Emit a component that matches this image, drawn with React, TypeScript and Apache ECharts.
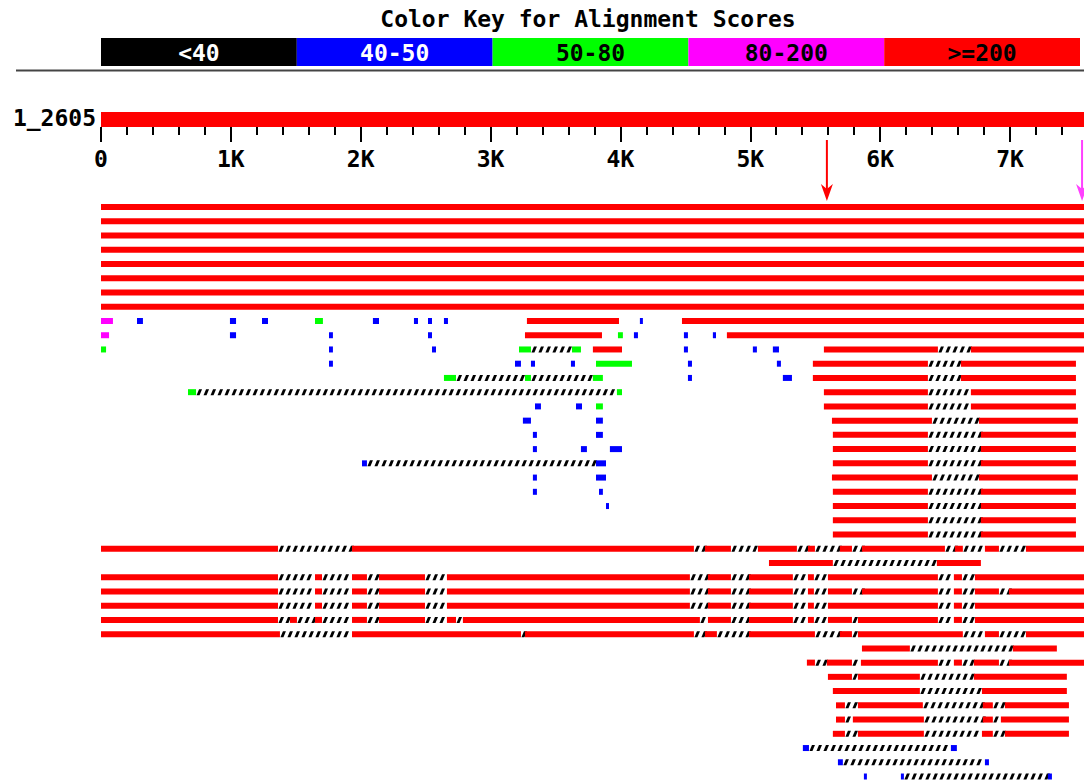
import React, { useEffect, useRef } from "react";
import * as echarts from "echarts";

type Seg = [number, number, string];

// ---------- data ----------
const QUERY_LENGTH = 7570;
const QUERY_LABEL = "1_2605";
const TITLE = "Color Key for Alignment Scores";
const KEY_LABELS = ["<40", "40-50", "50-80", "80-200", ">=200"];
const KEY_COLORS = ["#000000", "#0000ff", "#00ff00", "#ff00ff", "#ff0000"];
const KEY_TEXT_COLORS = ["#ffffff", "#ffffff", "#000000", "#000000", "#000000"];
const MAJOR_TICKS = [0, 1000, 2000, 3000, 4000, 5000, 6000, 7000];
const MINOR_TICKS = [
  200, 400, 600, 800, 1200, 1400, 1600, 1800, 2200, 2400, 2600, 2800, 3200, 3400, 3600, 3800,
  4200, 4400, 4600, 4800, 5200, 5400, 5600, 5800, 6200, 6400, 6600, 6800, 7200, 7400,
];
const ARROW_POSITIONS = [5590, 7555];
const ARROW_COLORS = ["#ff0000", "#ff40ff"];
// score classes: K <40, B 40-50, G 50-80, M 80-200, R >=200, H gap (hatched)
const CODES = ["K", "B", "G", "M", "R", "H"];
const CODE_COLORS: Record<string, string> = {
  K: "#000000",
  B: "#0000ff",
  G: "#00ff00",
  M: "#ff00ff",
  R: "#ff0000",
};

const FULL: Seg[] = [[0, 7570, "R"]];
const RIGHT_A: Seg[] = [[5636, 6368, "R"], [6368, 6776, "H"], [6776, 7508, "R"]];
const RIGHT_B: Seg[] = [[5629, 6399, "R"], [6399, 6761, "H"], [6761, 7523, "R"]];

const TOP_HITS: Seg[][] = [FULL, FULL, FULL, FULL, FULL, FULL, FULL, FULL];

const SCATTER_HITS: Seg[][] = [
  [[0, 92, "M"], [277, 323, "B"], [993, 1040, "B"], [1240, 1286, "B"], [1648, 1709, "G"], [2094, 2141, "B"], [2410, 2441, "B"], [2518, 2549, "B"], [2641, 2672, "B"], [3280, 3989, "R"], [4150, 4173, "B"], [4474, 7570, "R"]],
  [[0, 62, "M"], [993, 1040, "B"], [1756, 1786, "B"], [2518, 2549, "B"], [3265, 3858, "R"], [3981, 4019, "G"], [4104, 4135, "B"], [4489, 4520, "B"], [4712, 4736, "B"], [4820, 7570, "R"]],
  [[0, 39, "G"], [1756, 1786, "B"], [2549, 2580, "B"], [3219, 3311, "G"], [3311, 3627, "H"], [3627, 3696, "G"], [3788, 4012, "R"], [4489, 4520, "B"], [5020, 5051, "B"], [5174, 5221, "B"], [5567, 6445, "R"], [6445, 6699, "H"], [6699, 7570, "R"]],
  [[1756, 1786, "B"], [3188, 3234, "B"], [3311, 3342, "B"], [3619, 3650, "B"], [3812, 4089, "G"], [4520, 4551, "B"], [5205, 5236, "B"], [5482, 6368, "R"], [6368, 6622, "H"], [6622, 7508, "R"]],
  [[2641, 2734, "G"], [2734, 3265, "H"], [3265, 3311, "G"], [3311, 3788, "H"], [3788, 3865, "G"], [4520, 4551, "B"], [5251, 5321, "B"], [5482, 6368, "R"], [6368, 6622, "H"], [6622, 7508, "R"]],
  [[670, 732, "G"], [732, 3973, "H"], [3973, 4012, "G"], [5567, 6368, "R"], [6368, 6699, "H"], [6699, 7508, "R"]],
  [[3342, 3388, "B"], [3658, 3704, "B"], [3812, 3865, "G"], [5567, 6368, "R"], [6368, 6699, "H"], [6699, 7508, "R"]],
  [[3249, 3311, "B"], [3812, 3865, "B"], ...RIGHT_B],
  [[3326, 3357, "B"], [3812, 3865, "B"], ...RIGHT_A],
  [[3326, 3357, "B"], [3696, 3742, "B"], [3919, 4012, "B"], ...RIGHT_A],
  [[2010, 2048, "B"], [2048, 3812, "H"], [3812, 3889, "B"], ...RIGHT_A],
  [[3326, 3357, "B"], [3812, 3889, "B"], ...RIGHT_B],
  [[3326, 3357, "B"], [3835, 3865, "B"], ...RIGHT_A],
  [[3889, 3912, "B"], ...RIGHT_A],
  [...RIGHT_A],
  [...RIGHT_A],
];

const GAPPED_LEFT: Seg[] = [[0, 1363, "R"], [1363, 1648, "H"], [1648, 1702, "R"], [1702, 1933, "H"], [1933, 2048, "R"], [2048, 2141, "H"], [2141, 2495, "R"], [2495, 2664, "H"]];
const GAPPED_MID: Seg[] = [[4535, 4674, "H"], [4674, 4851, "R"], [4851, 4990, "H"], [4990, 5328, "R"], [5328, 5444, "H"], [5444, 5490, "R"], [5490, 5598, "H"]];

const GAPPED_HITS: Seg[][] = [
  [[0, 1363, "R"], [1363, 1933, "H"], [1933, 4566, "R"], [4566, 4651, "H"], [4651, 4851, "R"], [4851, 5059, "H"], [5059, 5359, "R"], [5359, 5444, "H"], [5444, 5498, "R"], [5498, 5690, "H"], [5690, 5783, "R"], [5783, 5860, "H"], [5860, 6499, "R"], [6499, 6576, "H"], [6576, 6637, "R"], [6637, 6807, "H"], [6807, 6915, "R"], [6915, 7123, "H"], [7123, 7570, "R"]],
  [[5144, 5636, "R"], [5636, 6437, "H"], [6437, 6776, "R"]],
  [...GAPPED_LEFT, [2664, 4535, "R"], ...GAPPED_MID, [5598, 6445, "R"], [6445, 6568, "H"], [6568, 6630, "R"], [6630, 6730, "H"], [6730, 7570, "R"]],
  [...GAPPED_LEFT, [2664, 4535, "R"], ...GAPPED_MID, [5598, 5783, "R"], [5783, 5860, "H"], [5860, 6445, "R"], [6445, 6568, "H"], [6568, 6630, "R"], [6630, 6730, "H"], [6730, 6915, "R"], [6915, 6992, "H"], [6992, 7570, "R"]],
  [...GAPPED_LEFT, [2664, 4535, "R"], ...GAPPED_MID, [5598, 6445, "R"], [6445, 6568, "H"], [6568, 6630, "R"], [6630, 6730, "H"], [6730, 7570, "R"]],
  [[0, 1363, "R"], [1363, 1455, "H"], [1455, 1509, "R"], [1509, 1648, "H"], [1648, 1702, "R"], [1702, 1933, "H"], [1933, 2048, "R"], [2048, 2141, "H"], [2141, 2495, "R"], [2495, 2664, "H"], [2664, 2734, "R"], [2734, 2787, "H"], [2787, 4612, "R"], [4612, 4674, "H"], [4674, 4851, "R"], [4851, 4990, "H"], [4990, 5328, "R"], [5328, 5444, "H"], [5444, 5490, "R"], [5490, 5598, "H"], [5598, 5783, "R"], [5783, 5829, "H"], [5829, 6445, "R"], [6445, 6568, "H"], [6568, 6630, "R"], [6630, 6730, "H"], [6730, 7570, "R"]],
  [[0, 1378, "R"], [1378, 1933, "H"], [1933, 3234, "R"], [3234, 3265, "H"], [3265, 4566, "R"], [4566, 4651, "H"], [4651, 4743, "R"], [4743, 4990, "H"], [4990, 5498, "R"], [5498, 5690, "H"], [5690, 5783, "R"], [5783, 5829, "H"], [5829, 6637, "R"], [6637, 6807, "H"], [6807, 6915, "R"], [6915, 7123, "H"], [7123, 7570, "R"]],
];

const LOWER_HITS: Seg[][] = [
  [[5860, 6229, "R"], [6229, 7022, "H"], [7022, 7361, "R"]],
  [[5436, 5498, "R"], [5498, 5590, "H"], [5590, 5783, "R"], [5783, 5852, "H"], [5852, 6445, "R"], [6445, 6568, "H"], [6568, 6630, "R"], [6630, 6722, "H"], [6722, 6915, "R"], [6915, 6992, "H"], [6992, 7570, "R"]],
  [[5598, 5783, "R"], [5783, 5829, "H"], [5829, 6306, "R"], [6306, 6722, "H"], [6722, 7438, "R"]],
  [[5636, 6306, "R"], [6306, 6784, "H"], [6784, 7438, "R"]],
  [[5660, 5729, "R"], [5729, 5829, "H"], [5829, 6329, "R"], [6329, 6791, "H"], [6791, 6868, "R"], [6868, 6961, "H"], [6961, 7454, "R"]],
  [[5660, 5729, "R"], [5729, 5790, "H"], [5790, 6337, "R"], [6337, 6791, "H"], [6791, 6868, "R"], [6868, 6930, "H"], [6930, 7454, "R"]],
  [[5636, 5729, "R"], [5729, 5829, "H"], [5829, 6337, "R"], [6337, 6784, "H"], [6784, 6868, "R"], [6868, 6961, "H"], [6961, 7454, "R"]],
  [[5405, 5452, "B"], [5452, 6545, "H"], [6545, 6591, "B"]],
  [[5675, 5713, "B"], [5713, 6807, "H"], [6807, 6838, "B"]],
  [[5875, 5898, "B"], [6160, 6183, "B"], [6183, 7292, "H"], [7292, 7323, "B"]],
];

const HITS: Seg[][] = [...TOP_HITS, ...SCATTER_HITS, ...GAPPED_HITS, ...LOWER_HITS];

// ---------- layout ----------
const W = 1084;
const H = 783;
const PLOT_LEFT = 101;
const FONT = '"DejaVu Sans Mono", monospace';
const BAR_H = 6;
const HATCH_STEP = 7;
const KEY_LEFT = 101;
const KEY_CELL = 195.8;

export default function App() {
  const ref = useRef<HTMLDivElement>(null);

  useEffect(() => {
    document.body.style.margin = "0";
    const chart = echarts.init(ref.current!, null, { renderer: "svg", width: W, height: H });

    const hitData = HITS.flatMap((row, r) =>
      row.map(([s, e, c]) => [s, e, r, CODES.indexOf(c)])
    );

    const textStyle = (text: string, fill: string, align: string) => ({
      text,
      fill,
      font: `bold 23px ${FONT}`,
      textAlign: align,
      textVerticalAlign: "middle",
      align,
      verticalAlign: "middle",
    });

    const graphics: any[] = [
      { type: "text", x: 588, y: 19, style: textStyle(TITLE, "#000", "center") },
      {
        type: "line",
        shape: { x1: 16, y1: 70.5, x2: W, y2: 70.5 },
        style: { stroke: "#444", lineWidth: 2 },
      },
      { type: "text", x: 96, y: 118, style: textStyle(QUERY_LABEL, "#000", "right") },
    ];
    KEY_LABELS.forEach((lab, i) => {
      graphics.push({
        type: "rect",
        shape: { x: KEY_LEFT + i * KEY_CELL, y: 38, width: KEY_CELL, height: 28 },
        style: { fill: KEY_COLORS[i] },
      });
      graphics.push({
        type: "text",
        x: KEY_LEFT + i * KEY_CELL + KEY_CELL / 2,
        y: 53,
        style: textStyle(lab, KEY_TEXT_COLORS[i], "center"),
      });
    });

    const queryGrid = { left: PLOT_LEFT, top: 112, right: 0, height: 15 };

    const option: any = {
      animation: false,
      backgroundColor: "#ffffff",
      graphic: graphics,
      grid: [
        { left: PLOT_LEFT, top: 200, right: 0, height: 583 },
        queryGrid,
        { ...queryGrid },
      ],
      xAxis: [
        { gridIndex: 0, type: "value", min: 0, max: QUERY_LENGTH, show: false },
        {
          gridIndex: 1,
          type: "value",
          min: 0,
          max: QUERY_LENGTH,
          position: "bottom",
          axisLine: { show: false },
          splitLine: { show: false },
          axisTick: {
            show: true,
            customValues: MAJOR_TICKS,
            length: 15,
            lineStyle: { color: "#000", width: 2 },
          },
          axisLabel: {
            show: true,
            customValues: MAJOR_TICKS,
            margin: 20,
            color: "#000",
            fontFamily: FONT,
            fontWeight: "bold",
            fontSize: 23,
            formatter: (v: number) => (v === 0 ? "0" : `${v / 1000}K`),
          },
        },
        {
          gridIndex: 2,
          type: "value",
          min: 0,
          max: QUERY_LENGTH,
          position: "bottom",
          axisLine: { show: false },
          splitLine: { show: false },
          axisTick: {
            show: true,
            customValues: MINOR_TICKS,
            length: 8,
            lineStyle: { color: "#000", width: 2 },
          },
          axisLabel: { show: false },
        },
      ],
      yAxis: [
        { gridIndex: 0, type: "value", min: -0.5, max: 40.456, inverse: true, show: false },
        { gridIndex: 1, type: "value", min: 0, max: 1, show: false },
        { gridIndex: 2, type: "value", min: 0, max: 1, show: false },
      ],
      series: [
        {
          type: "custom",
          xAxisIndex: 1,
          yAxisIndex: 1,
          data: [[0, QUERY_LENGTH]],
          renderItem: (params: any, api: any) => {
            const a = api.coord([api.value(0), 0]);
            const b = api.coord([api.value(1), 1]);
            return {
              type: "rect",
              shape: { x: a[0], y: b[1], width: b[0] - a[0], height: a[1] - b[1] },
              style: { fill: "#ff0000" },
            };
          },
        },
        {
          type: "custom",
          xAxisIndex: 0,
          yAxisIndex: 0,
          data: hitData,
          encode: { x: [0, 1], y: 2 },
          renderItem: (params: any, api: any) => {
            const s = api.value(0);
            const e = api.value(1);
            const r = api.value(2);
            const code = CODES[api.value(3)];
            const a = api.coord([s, r]);
            const b = api.coord([e, r]);
            const y = a[1];
            if (code !== "H") {
              return {
                type: "rect",
                shape: { x: a[0], y: y - BAR_H / 2, width: Math.max(b[0] - a[0], 3), height: BAR_H },
                style: { fill: CODE_COLORS[code] },
              };
            }
            const children: any[] = [];
            for (let x = a[0] + 0.5; x + 2 < b[0]; x += HATCH_STEP) {
              children.push({
                type: "polygon",
                shape: {
                  points: [
                    [x, y + BAR_H / 2],
                    [x + 3, y + BAR_H / 2],
                    [x + 5.5, y - BAR_H / 2],
                    [x + 2.5, y - BAR_H / 2],
                  ],
                },
                style: { fill: "#000" },
              });
            }
            return { type: "group", children };
          },
        },
        {
          type: "custom",
          xAxisIndex: 0,
          yAxisIndex: 0,
          data: ARROW_POSITIONS.map((p, i) => [p, i]),
          encode: { x: 0 },
          renderItem: (params: any, api: any) => {
            const x = api.coord([api.value(0), 0])[0];
            const color = ARROW_COLORS[api.value(1)];
            return {
              type: "group",
              children: [
                {
                  type: "line",
                  shape: { x1: x, y1: 140, x2: x, y2: 192 },
                  style: { stroke: color, lineWidth: 2 },
                },
                {
                  type: "polygon",
                  shape: { points: [[x - 6, 184], [x, 201], [x + 6, 184], [x, 189]] },
                  style: { fill: color },
                },
              ],
            };
          },
        },
      ],
    };

    chart.setOption(option);
    return () => chart.dispose();
  }, []);

  return (
    <div
      ref={ref}
      style={{ position: "absolute", left: 0, top: 0, width: W, height: H, background: "#fff" }}
    />
  );
}
